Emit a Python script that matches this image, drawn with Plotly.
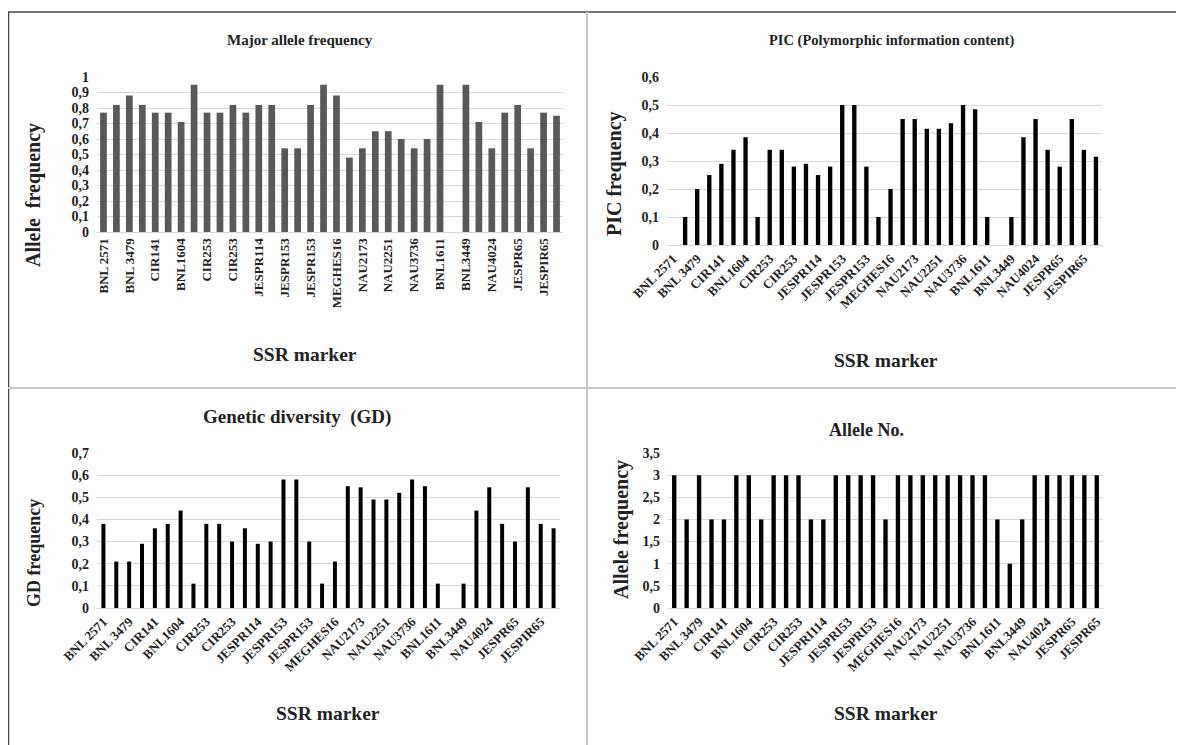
import plotly.graph_objects as go

# ---- data ----
tick_labels_a = ["BNL 2571", "BNL 3479", "CIR141", "BNL1604", "CIR253", "CIR253", "JESPR114",
                 "JESPR153", "JESPR153", "MEGHES16", "NAU2173", "NAU2251", "NAU3736", "BNL1611",
                 "BNL3449", "NAU4024", "JESPR65", "JESPIR65"]
tick_labels_b = ["BNL 2571", "BNL 3479", "CIR141", "BNL1604", "CIR253", "CIR253", "JESPRI114",
                 "JESPRI53", "JESPRI53", "MEGHES16", "NAU2173", "NAU2251", "NAU3736", "BNL1611",
                 "BNL3449", "NAU4024", "JESPR65", "JESPR65"]

major_allele = [0.77, 0.82, 0.88, 0.82, 0.77, 0.77, 0.71, 0.95, 0.77, 0.77, 0.82, 0.77,
                0.82, 0.82, 0.54, 0.54, 0.82, 0.95, 0.88, 0.48, 0.54, 0.65, 0.65, 0.60,
                0.54, 0.60, 0.95, 0.0, 0.95, 0.71, 0.54, 0.77, 0.82, 0.54, 0.77, 0.75]
pic = [0.0, 0.10, 0.20, 0.25, 0.29, 0.34, 0.385, 0.10, 0.34, 0.34, 0.28, 0.29,
       0.25, 0.28, 0.50, 0.50, 0.28, 0.10, 0.20, 0.45, 0.45, 0.415, 0.415, 0.435,
       0.50, 0.485, 0.10, 0.0, 0.10, 0.385, 0.45, 0.34, 0.28, 0.45, 0.34, 0.315]
gd = [0.38, 0.21, 0.21, 0.29, 0.36, 0.38, 0.44, 0.11, 0.38, 0.38, 0.30, 0.36,
      0.29, 0.30, 0.58, 0.58, 0.30, 0.11, 0.21, 0.55, 0.545, 0.49, 0.49, 0.52,
      0.58, 0.55, 0.11, 0.0, 0.11, 0.44, 0.545, 0.38, 0.30, 0.545, 0.38, 0.36]
allele_no = [3, 2, 3, 2, 2, 3, 3, 2, 3, 3, 3, 2, 2, 3, 3, 3, 3, 2, 3, 3, 3, 3, 3, 3,
             3, 3, 2, 1, 2, 3, 3, 3, 3, 3, 3]

# page body has an 8px margin, so the figure starts at (8, 8) in the window
OX, OY = 8, 8
W, H = 1184 - OX, 745 - OY
FONT = "Liberation Serif"
TXT = "#222222"


def px(x):
    return (x - OX) / W


def py(y):
    return 1 - (y - OY) / H


fig = go.Figure()

panels = [
    dict(v=major_allele, lab=tick_labels_a, color="#595959", w=0.52,
         dom=(97, 563, 77, 232), yr=[0, 1], dt=0.1, ang=-90),
    dict(v=pic, lab=tick_labels_a, color="#000000", w=0.36,
         dom=(667, 1102, 77, 245), yr=[0, 0.6], dt=0.1, ang=-45),
    dict(v=gd, lab=tick_labels_a, color="#000000", w=0.31,
         dom=(97, 560, 453, 608), yr=[0, 0.7], dt=0.1, ang=-45),
    dict(v=allele_no, lab=tick_labels_b, color="#000000", w=0.35,
         dom=(668, 1103, 453, 608), yr=[0, 3.5], dt=0.5, ang=-45),
]

layout_axes = {}
for i, p in enumerate(panels, start=1):
    n = len(p["v"])
    xs = list(range(n))
    sfx = "" if i == 1 else str(i)
    fig.add_trace(go.Bar(x=xs, y=p["v"], marker=dict(color=p["color"], line=dict(width=0)),
                         width=p["w"], xaxis="x" + sfx, yaxis="y" + sfx, showlegend=False))
    x0, x1, yt, yb = p["dom"]
    layout_axes["xaxis" + sfx] = dict(
        domain=[px(x0), px(x1)], anchor="y" + sfx, range=[-0.5, n - 0.5],
        tickmode="array", tickvals=list(range(0, n, 2)), ticktext=p["lab"],
        tickangle=p["ang"], showgrid=False, zeroline=False, showline=True,
        linecolor="#d9d9d9", linewidth=1, ticks="", automargin=False,
        tickfont=dict(family=FONT, size=13, color=TXT, weight="bold"))
    layout_axes["yaxis" + sfx] = dict(
        domain=[py(yb), py(yt)], anchor="x" + sfx, range=p["yr"], dtick=p["dt"],
        showgrid=True, gridcolor="#d9d9d9", gridwidth=1, zeroline=False,
        showline=False, ticks="", automargin=False, ticklabelstandoff=7,
        tickfont=dict(family=FONT, size=14, color=TXT, weight="bold"))

fig.update_layout(**layout_axes)

annos = [
    ("<b>Major allele frequency</b>", 300, 40, 0, 15),
    ("<b>PIC (Polymorphic information content)</b>", 891, 40, 0, 14.5),
    ("<b>Genetic diversity  (GD)</b>", 297, 417, 0, 19),
    ("<b>Allele No.</b>", 866, 430, 0, 18),
    ("<b>Allele  frequency</b>", 33, 195, -90, 20),
    ("<b>PIC frequency</b>", 615, 174, -90, 20),
    ("<b>GD frequency</b>", 34, 553, -90, 18),
    ("<b>Allele frequency</b>", 621, 530, -90, 20),
    ("<b>SSR marker</b>", 305, 354, 0, 19.5),
    ("<b>SSR marker</b>", 886, 360, 0, 19.5),
    ("<b>SSR marker</b>", 328, 713, 0, 19.5),
    ("<b>SSR marker</b>", 886, 713, 0, 19.5),
]
fig.update_layout(annotations=[
    dict(text=t, x=px(x), y=py(y), xref="paper", yref="paper", showarrow=False,
         textangle=a, xanchor="center", yanchor="middle",
         font=dict(family=FONT, size=s, color=TXT))
    for t, x, y, a, s in annos
])

shapes = [
    dict(type="line", x0=px(8.5), x1=px(8.5), y0=py(12), y1=0, line=dict(color="#444444", width=1.5)),
    dict(type="line", x0=px(8), x1=px(1182), y0=py(12), y1=py(12), line=dict(color="#444444", width=1.5)),
    dict(type="line", x0=px(1182), x1=px(1182), y0=py(12), y1=0, line=dict(color="#cccccc", width=1)),
    dict(type="line", x0=px(587), x1=px(587), y0=py(12), y1=0, line=dict(color="#c8c8c8", width=2)),
    dict(type="line", x0=px(8), x1=px(1182), y0=py(388), y1=py(388), line=dict(color="#c8c8c8", width=2)),
]
for s in shapes:
    s.update(xref="paper", yref="paper")
fig.update_layout(shapes=shapes)

fig.update_layout(width=W, height=H, margin=dict(l=0, r=0, t=0, b=0),
                  paper_bgcolor="white", plot_bgcolor="white", separators=", ",
                  font=dict(family=FONT, color=TXT))

fig.write_html("out.html")
